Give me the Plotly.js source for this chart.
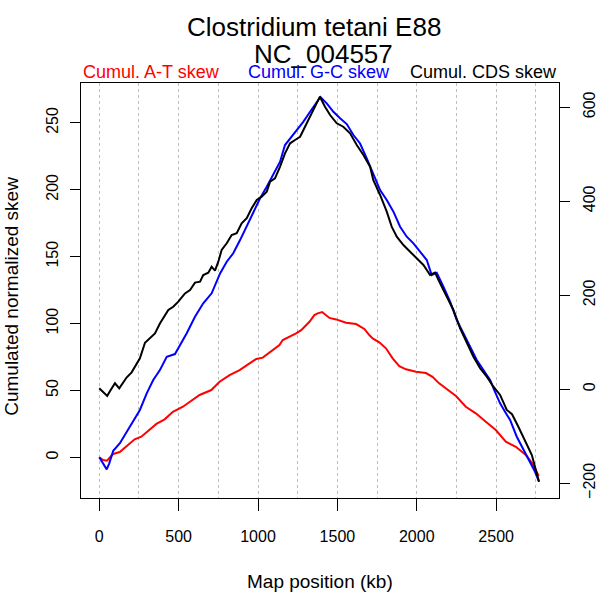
<!DOCTYPE html>
<html>
<head>
<meta charset="utf-8">
<script src="https://cdn.plot.ly/plotly-3.0.1.min.js"></script>
<style>html,body{margin:0;padding:0;background:#fff;}#chart{width:600px;height:600px;}</style>
</head>
<body>
<div id="chart"></div>
<script>
// Cumulative A-T skew (left axis)
const atPos = [0, 24, 49, 87, 129, 181, 223, 265, 318, 360, 412, 464, 527, 590, 632, 706, 758, 821, 884, 947, 989, 1030, 1052, 1093, 1135, 1156, 1177, 1219, 1240, 1272, 1303, 1324, 1355, 1376, 1404, 1450, 1492, 1555, 1618, 1670, 1701, 1722, 1764, 1806, 1848, 1890, 1932, 1995, 2058, 2099, 2141, 2184, 2247, 2309, 2372, 2435, 2498, 2561, 2624, 2687, 2728, 2768];
const atSkew = [0, -2, -2.5, 2.5, 4, 9, 13.5, 15.4, 21, 25, 28.4, 34, 37.8, 42.8, 46.6, 50.3, 56.5, 61.5, 65.2, 70.2, 73.5, 74.5, 76.5, 80.2, 83.9, 87.7, 88.9, 91.5, 92.7, 95.1, 98.9, 101.3, 106.3, 107.6, 108.6, 104.2, 103.1, 100.6, 99.6, 96, 91.4, 88.9, 86, 81.5, 74, 68.2, 65.8, 64, 63, 60.2, 55.3, 51.6, 45.8, 37.8, 32.9, 26.6, 20.4, 11.7, 7.9, 1.7, -4.5, -14];

// Cumulative G-C skew (left axis)
const gcPos = [0, 25, 47, 63, 88, 130, 173, 214, 256, 299, 340, 382, 425, 477, 509, 551, 603, 655, 708, 761, 803, 844, 887, 929, 970, 1013, 1055, 1096, 1139, 1170, 1212, 1244, 1285, 1328, 1359, 1393, 1433, 1475, 1517, 1559, 1601, 1643, 1685, 1727, 1769, 1811, 1853, 1895, 1937, 1979, 2021, 2063, 2094, 2126, 2168, 2210, 2252, 2294, 2336, 2378, 2420, 2462, 2493, 2525, 2556, 2588, 2630, 2672, 2714, 2745, 2770];
const gcSkew = [0, -4.5, -9, -4.5, 4.9, 10.5, 19.1, 27.9, 35.4, 47.8, 57.8, 65.2, 75.2, 77.2, 83.9, 92.7, 105.1, 115.1, 122.6, 137.5, 146.2, 152.5, 162.4, 172.4, 182.4, 193.6, 202.2, 211, 221, 233.4, 239.6, 244.6, 250.8, 258.3, 263.3, 269.3, 264.6, 258.3, 253.4, 249.1, 240.9, 234.6, 223.5, 211, 199.8, 192.3, 183.6, 172.4, 164.9, 159.9, 153.7, 147.5, 136.2, 138, 127.5, 116.3, 102.6, 92.7, 82.7, 72.7, 65.2, 57.8, 49, 40.4, 34.1, 27.9, 15.4, 5.5, -4.5, -10.8, -18.2];

// Cumulative CDS skew (right axis)
const cdsPos = [0, 25, 50, 72, 99, 126, 151, 172, 204, 225, 256, 288, 319, 351, 382, 414, 435, 466, 498, 540, 572, 603, 635, 655, 687, 708, 729, 750, 771, 803, 834, 866, 897, 929, 960, 992, 1023, 1055, 1076, 1107, 1139, 1170, 1202, 1233, 1265, 1296, 1328, 1359, 1390, 1422, 1454, 1496, 1537, 1580, 1622, 1664, 1706, 1726, 1769, 1811, 1842, 1874, 1916, 1958, 2000, 2042, 2084, 2115, 2147, 2189, 2231, 2273, 2315, 2357, 2399, 2441, 2483, 2525, 2567, 2600, 2640, 2682, 2725, 2770];
const cdsSkew = [2, -5, -14, -1.5, 12.8, 2, 15, 25, 36, 48, 66, 99, 108.5, 119, 140, 158, 168.7, 175.7, 186.4, 204, 211, 227, 229, 243, 248, 260.9, 252.3, 271.5, 296.4, 310.6, 328.3, 332, 353, 364, 385, 402.8, 409.8, 420.4, 441.7, 448.9, 473.6, 502, 523.4, 530.4, 537.4, 558.7, 580, 601.3, 622.6, 601.3, 583.6, 566, 558.7, 544.7, 519.8, 498.5, 473.6, 445.3, 413.4, 377.9, 346, 324.7, 307, 292.8, 278.7, 264.5, 243.2, 248.1, 225.5, 197, 168.7, 129.8, 97.9, 69.4, 44.7, 26.8, 5.5, -12, -44, -53, -79.6, -107.9, -139.8, -196.6];

const titleLines = ["Clostridium tetani E88", "NC_004557"];
const seriesNames = ["Cumul. A-T skew", "Cumul. G-C skew", "Cumul. CDS skew"];
const xTitle = "Map position (kb)";
const yTitle = "Cumulated normalized skew";

const FONT = "Liberation Sans, Arial, Helvetica, sans-serif";
const TICKFONT = "Liberation Sans Narrow, Liberation Sans, Arial, sans-serif";

const traces = [
  {x: atPos, y: atSkew, type: 'scatter', mode: 'lines', name: seriesNames[0], line: {color: '#FF0000', width: 2}, yaxis: 'y'},
  {x: gcPos, y: gcSkew, type: 'scatter', mode: 'lines', name: seriesNames[1], line: {color: '#0000FF', width: 2}, yaxis: 'y'},
  {x: cdsPos, y: cdsSkew, type: 'scatter', mode: 'lines', name: seriesNames[2], line: {color: '#000000', width: 2}, yaxis: 'y2'}
];

const layout = {
  width: 600, height: 600,
  margin: {l: 81, r: 41, t: 83, b: 102, pad: 0},
  paper_bgcolor: '#fff', plot_bgcolor: '#fff',
  showlegend: false,
  font: {family: FONT, color: '#000'},
  xaxis: {
    range: [-115, 2896], tick0: 0, dtick: 500,
    ticks: 'outside', ticklen: 12, tickcolor: '#000', tickwidth: 1,
    showline: true, linecolor: '#000', linewidth: 1, mirror: true,
    showgrid: true, gridcolor: '#BEBEBE', griddash: 'dot', gridwidth: 1,
    minor: {tick0: 0, dtick: 250, showgrid: true, gridcolor: '#BEBEBE', griddash: 'dot', gridwidth: 1, ticks: ''},
    zeroline: false,
    tickfont: {family: TICKFONT, size: 16, color: '#000'},
    ticklabelstandoff: 12
  },
  yaxis: {
    range: [-30.4, 279.8], tick0: 0, dtick: 50,
    ticks: 'outside', ticklen: 10, tickcolor: '#000',
    showline: true, linecolor: '#000', linewidth: 1, mirror: true,
    showgrid: false, zeroline: false, tickangle: -90,
    tickfont: {family: TICKFONT, size: 16, color: '#000'},
    ticklabelstandoff: 6
  },
  yaxis2: {
    overlaying: 'y', side: 'right',
    range: [-231.3, 651.7], tick0: 0, dtick: 200,
    ticks: 'outside', ticklen: 10, tickcolor: '#000',
    showline: true, linecolor: '#000', linewidth: 1,
    showgrid: false, zeroline: false, tickangle: -90,
    tickfont: {family: TICKFONT, size: 16, color: '#000'},
    ticklabelstandoff: 6
  },
  annotations: [
    {text: titleLines[0], xref: 'paper', yref: 'paper', x: 0.4874, y: 1.1349, xanchor: 'center', yanchor: 'middle', showarrow: false, font: {size: 26, color: '#000'}},
    {text: titleLines[1], xref: 'paper', yref: 'paper', x: 0.5063, y: 1.0694, xanchor: 'center', yanchor: 'middle', showarrow: false, font: {size: 26, color: '#000'}},
    {text: seriesNames[0], xref: 'paper', yref: 'paper', x: 0, y: 1.0265, xanchor: 'left', yanchor: 'middle', showarrow: false, font: {size: 18, color: '#FF0000'}},
    {text: seriesNames[1], xref: 'paper', yref: 'paper', x: 0.4973, y: 1.0265, xanchor: 'center', yanchor: 'middle', showarrow: false, font: {size: 18, color: '#0000FF'}},
    {text: seriesNames[2], xref: 'paper', yref: 'paper', x: 1, y: 1.0265, xanchor: 'right', yanchor: 'middle', showarrow: false, font: {size: 18, color: '#000000'}},
    {text: xTitle, xref: 'paper', yref: 'paper', x: 0.5, y: -0.2, xanchor: 'center', yanchor: 'middle', showarrow: false, font: {size: 19, color: '#000'}},
    {text: yTitle, xref: 'paper', yref: 'paper', x: -0.1469, y: 0.4867, xanchor: 'center', yanchor: 'middle', textangle: -90, showarrow: false, font: {size: 19, color: '#000'}}
  ]
};

Plotly.newPlot('chart', traces, layout, {staticPlot: true, displayModeBar: false});
</script>
</body>
</html>
